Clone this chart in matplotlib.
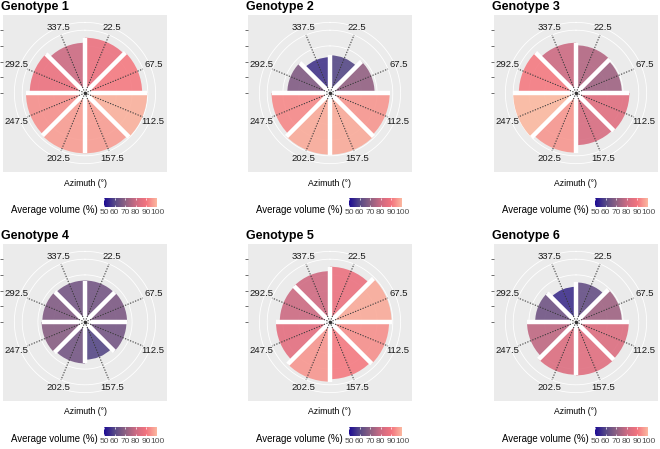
import numpy as np
import matplotlib.pyplot as plt
from matplotlib.colors import LinearSegmentedColormap
from matplotlib.cm import ScalarMappable

plt.rcParams['font.family'] = ['Liberation Sans', 'DejaVu Sans']

# azimuth sectors (deg) and their labels
azimuth = [22.5, 67.5, 112.5, 157.5, 202.5, 247.5, 292.5, 337.5]
az_labels = ['22.5', '67.5', '112.5', '157.5', '202.5', '247.5', '292.5', '337.5']

# average volume (%) per sector
genotype1 = [88, 91, 99, 96, 96, 94, 88, 80]
genotype2 = [60, 71, 95, 98, 98, 93, 68, 57]
genotype3 = [76, 73, 85, 83, 95, 100, 91, 80]
genotype4 = [66, 67, 66, 60, 66, 69, 68, 66]
genotype5 = [88, 98, 94, 91, 95, 86, 80, 81]
genotype6 = [63, 73, 84, 85, 84, 78, 65, 56]

titles = ['Genotype 1', 'Genotype 2', 'Genotype 3',
          'Genotype 4', 'Genotype 5', 'Genotype 6']
volumes = [genotype1, genotype2, genotype3, genotype4, genotype5, genotype6]
cb_ticks = [50, 60, 70, 80, 90, 100]

cmap = LinearSegmentedColormap.from_list(
    'vol', [(0.0, '#1c0b94'), (0.2, '#554886'), (0.4, '#8c6082'),
            (0.6, '#cc6a82'), (0.8, '#f3737e'), (1.0, '#fbb8a0')])
norm = plt.Normalize(50, 100)

W, H = 660, 449
fig = plt.figure(figsize=(W / 100, H / 100), dpi=100)


def box(x0, y0, w, h):
    # pixel box (top-left origin) -> figure fraction
    return [x0 / W, 1 - (y0 + h) / H, w / W, h / H]


s = 0.628          # pixels per data unit (radius)
rmax = 125         # radial limit of the polar axes
col_cx = [85, 330, 576]
row_cy = [93, 322]
half_w, half_h = 82, 78.5

for i, (title, vals) in enumerate(zip(titles, volumes)):
    cx = col_cx[i % 3]
    cy = row_cy[i // 3]

    # grey panel with the (unlabelled) radial ticks on the left
    bg = fig.add_axes(box(cx - half_w, cy - half_h, 2 * half_w, 2 * half_h))
    bg.set_facecolor('#EBEBEB')
    bg.set_xlim(-half_w / s, half_w / s)
    bg.set_ylim(-half_h / s, half_h / s)
    for sp in bg.spines.values():
        sp.set_visible(False)
    bg.set_xticks([])
    bg.set_yticks([0, 25, 50, 75, 100])
    bg.set_yticklabels([])
    bg.tick_params(axis='y', length=2.5, width=0.5, color='#333333')

    R = rmax * s
    ax = fig.add_axes(box(cx - R, cy - R, 2 * R, 2 * R), projection='polar')
    ax.set_facecolor('none')
    ax.set_theta_zero_location('N')
    ax.set_theta_direction(-1)
    ax.set_ylim(0, rmax)
    ax.set_xticks([])
    ax.set_yticks([])
    ax.grid(False)
    ax.spines['polar'].set_visible(False)

    th = np.linspace(0, 2 * np.pi, 300)
    for r in [25, 50, 75, 100, 112.5]:
        ax.plot(th, np.full_like(th, r), color='white', lw=0.6, zorder=1)

    theta = np.deg2rad(azimuth)
    ax.bar(theta, vals, width=np.deg2rad(45), bottom=0,
           color=cmap(norm(np.array(vals))), alpha=0.9,
           linewidth=0, zorder=2)

    # white separating strips between neighbouring sectors
    for k in range(len(vals)):
        edge = np.deg2rad(azimuth[k] - 22.5)
        r_end = max(vals[k], vals[k - 1])
        ax.plot([edge, edge], [0, r_end], color='white', lw=3.2,
                solid_capstyle='butt', zorder=2.5)

    for t, lab in zip(theta, az_labels):
        ax.plot([t, t], [0, 100], color='#3a3a3a', lw=0.75,
                ls=(0, (1.2, 1.4)), zorder=3)
        rc = (62 + 11 * abs(np.sin(t)) + 4.5 * abs(np.cos(t))) / s
        ax.text(t, rc, lab, ha='center', va='center', fontsize=6.8,
                color='#1a1a1a', zorder=4)
    ax.plot([0], [0], 'o', ms=1.5, color='#333333', zorder=4)

    fig.text((cx - 85 + 1) / W, 1 - (cy - 93 + 7) / H, title,
             fontsize=9, fontweight='bold', ha='left', va='center')
    fig.text(cx / W, 1 - (cy - 93 + 183) / H, 'Azimuth (°)',
             fontsize=6.2, ha='center', va='center')
    fig.text((cx - 74) / W, 1 - (cy - 93 + 210) / H, 'Average volume (%)',
             fontsize=6.9, ha='left', va='center')

    cax = fig.add_axes(box(cx + 19, cy - 93 + 198, 53, 9))
    cb = fig.colorbar(ScalarMappable(norm=norm, cmap=cmap), cax=cax,
                      orientation='horizontal', ticks=cb_ticks)
    cb.outline.set_visible(False)
    cax.tick_params(length=0, pad=1.5, labelsize=6, labelcolor='#4D4D4D')
    cax.vlines(cb_ticks, 0, 0.2, color='white', lw=0.5)
    cax.vlines(cb_ticks, 0.8, 1, color='white', lw=0.5)

fig.savefig('out.png', dpi=100)
